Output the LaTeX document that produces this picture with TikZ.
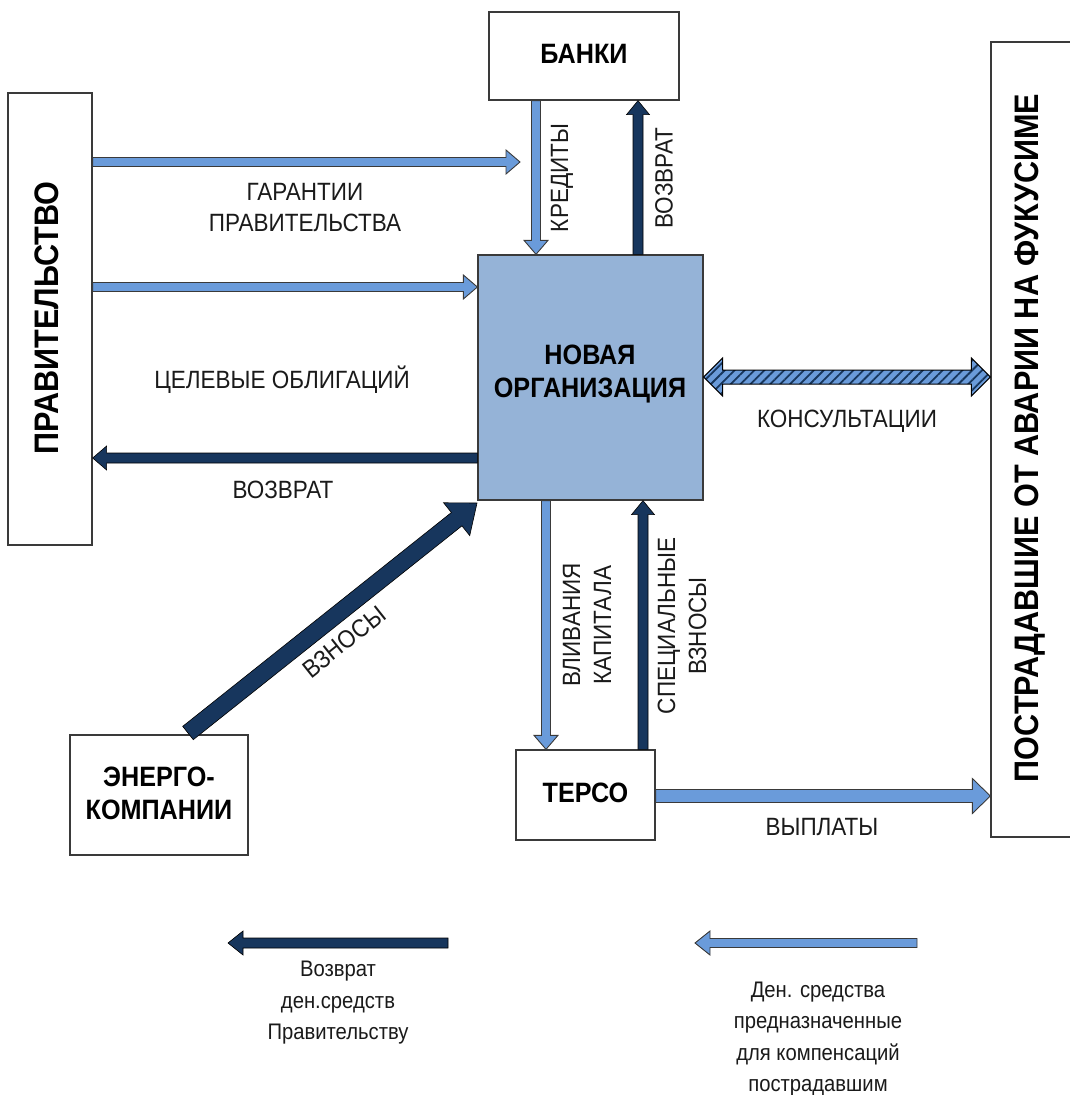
\documentclass[tikz,border=0pt]{standalone}
\usepackage{fontspec}
\setmainfont{Liberation Sans}[FakeStretch=0.9]
\usetikzlibrary{calc,patterns.meta}
\definecolor{lb}{HTML}{6A9BDA}
\definecolor{db}{HTML}{17365D}
\definecolor{orgfill}{HTML}{95B3D7}
\definecolor{edge}{HTML}{3A3A3A}
\definecolor{txt}{HTML}{1A1A1A}

% block arrow: from, to, shaft half width, head half width, head length, style
\newcommand{\blockarr}[6]{%
  \coordinate (ba-s) at (#1);
  \coordinate (ba-e) at (#2);
  \coordinate (ba-m) at ($(ba-e)!#5!(ba-s)$);
  \path[#6] ($(ba-s)!#3!90:(ba-e)$) -- ($(ba-m)!#3!-90:(ba-s)$) -- ($(ba-m)!#4!-90:(ba-s)$) -- (ba-e) -- ($(ba-m)!#4!90:(ba-s)$) -- ($(ba-m)!#3!90:(ba-s)$) -- ($(ba-s)!#3!-90:(ba-e)$) -- cycle;
}
% double-headed block arrow
\newcommand{\dblockarr}[6]{%
  \coordinate (ba-s) at (#1);
  \coordinate (ba-e) at (#2);
  \coordinate (ba-m) at ($(ba-e)!#5!(ba-s)$);
  \coordinate (ba-n) at ($(ba-s)!#5!(ba-e)$);
  \path[#6] (ba-s) -- ($(ba-n)!#4!90:(ba-e)$) -- ($(ba-n)!#3!90:(ba-e)$) -- ($(ba-m)!#3!-90:(ba-s)$) -- ($(ba-m)!#4!-90:(ba-s)$) -- (ba-e) -- ($(ba-m)!#4!90:(ba-s)$) -- ($(ba-m)!#3!90:(ba-s)$) -- ($(ba-n)!#3!-90:(ba-e)$) -- ($(ba-n)!#4!-90:(ba-e)$) -- cycle;
}

\begin{document}
\begin{tikzpicture}[x=1pt,y=-1pt,
  box/.style={draw=edge, line width=1.3pt, fill=white, inner sep=0pt},
  bigtxt/.style={font=\fontsize{28}{33}\selectfont\bfseries, text=black, align=center},
  sidetxt/.style={font=\fontsize{34}{36}\selectfont\bfseries, text=black, rotate=90},
  lbl/.style={font=\fontsize{25}{31}\selectfont, text=txt, align=center},
  leg/.style={font=\fontsize{22.5}{31.5}\selectfont, text=txt, align=center},
  light/.style={draw=edge, line width=0.9pt, fill=lb},
  dark/.style={draw=black, line width=0.6pt, fill=db},
  hatch/.style={draw=black, line width=1pt, preaction={fill=lb},
     pattern={Lines[angle=45,distance=7pt,line width=1.8pt]}, pattern color=db}
]
\useasboundingbox (0,0) rectangle (1069,1095);

% boxes
\node[box, minimum width=190pt, minimum height=88pt] (banks) at (584,56) {};
\node[bigtxt] (banksT) at (584,54) {БАНКИ};
\node[box, minimum width=84pt, minimum height=452pt] (gov) at (50,319) {};
\node[sidetxt] (govT) at (47,318) {ПРАВИТЕЛЬСТВО};
\node[box, fill=orgfill, minimum width=225pt, minimum height=245pt] (org) at (590.5,377.5) {};
\node[bigtxt] (orgT) at (590,374) {НОВАЯ\\ОРГАНИЗАЦИЯ};
\node[box, minimum width=110pt, minimum height=795pt] (vict) at (1046,439.5) {};
\node[sidetxt] (victT) at (1030,438) {ПОСТРАДАВШИЕ ОТ АВАРИИ НА ФУКУСИМЕ};
\node[box, minimum width=178pt, minimum height=120pt] (energy) at (159,795) {};
\node[bigtxt] (energyT) at (159,793) {ЭНЕРГО-\\КОМПАНИИ};
\node[box, minimum width=139pt, minimum height=90pt] (terso) at (585.5,795) {};
\node[bigtxt] (tersoT) at (585.5,793) {ТЕРСО};

% helper points
\coordinate (gar-e) at (520,162);
\coordinate (vzn-s) at (188,733);
\coordinate (vzn-e) at (477,503);

% arrows
\blockarr{gov.east |- 0,162}{gar-e}{4.5pt}{12pt}{14pt}{light}
\blockarr{gov.east |- 0,287}{org.west |- 0,287}{4.5pt}{12pt}{14pt}{light}
\blockarr{banks.south -| 536,0}{org.north -| 536,0}{4.5pt}{12pt}{14pt}{light}
\blockarr{org.north -| 638,0}{banks.south -| 638,0}{5pt}{11.5pt}{14pt}{dark}
\blockarr{org.west |- 0,458}{gov.east |- 0,458}{5pt}{12pt}{14pt}{dark}
\blockarr{vzn-s}{vzn-e}{8.5pt}{21pt}{26pt}{dark}
\blockarr{org.south -| 546,0}{terso.north -| 546,0}{4.5pt}{12pt}{14pt}{light}
\blockarr{terso.north -| 643,0}{org.south -| 643,0}{5pt}{11.5pt}{14pt}{dark}
\dblockarr{org.east |- 0,377}{vict.west |- 0,377}{7pt}{19pt}{19pt}{hatch}
\blockarr{terso.east |- 0,796}{vict.west |- 0,796}{6.5pt}{17.5pt}{18pt}{light}

% arrow labels
\node[lbl] (garT) at (305,208) {ГАРАНТИИ\\ПРАВИТЕЛЬСТВА};
\node[lbl] (oblT) at (282,380) {ЦЕЛЕВЫЕ ОБЛИГАЦИЙ};
\node[lbl] (vozT) at (283,490) {ВОЗВРАТ};
\node[lbl, rotate=90] (kredT) at (562,178) {КРЕДИТЫ};
\node[lbl, rotate=90] (voz2T) at (664,178) {ВОЗВРАТ};
\node[lbl] (konsT) at (847,421) {КОНСУЛЬТАЦИИ};
\node[lbl, rotate=38.5] (vznT) at (344,642) {ВЗНОСЫ};
\node[lbl, rotate=90] (vlivT) at (587,625) {ВЛИВАНИЯ\\КАПИТАЛА};
\node[lbl, rotate=90] (specT) at (682,626) {СПЕЦИАЛЬНЫЕ\\ВЗНОСЫ};
\node[lbl] (vyplT) at (822,827) {ВЫПЛАТЫ};

% legend
\coordinate (leg1-s) at (448,943);
\coordinate (leg1-e) at (228,943);
\coordinate (leg2-s) at (917,943);
\coordinate (leg2-e) at (695,943);
\blockarr{leg1-s}{leg1-e}{5pt}{12pt}{15pt}{dark}
\blockarr{leg2-s}{leg2-e}{4.5pt}{12pt}{15pt}{light}
\node[leg] (leg1T) at (338,1003) {Возврат\\ден.средств\\Правительству};
\node[leg] (leg2T) at (818,1039) {Ден. средства\\предназначенные\\для компенсаций\\пострадавшим};
\end{tikzpicture}
\end{document}
